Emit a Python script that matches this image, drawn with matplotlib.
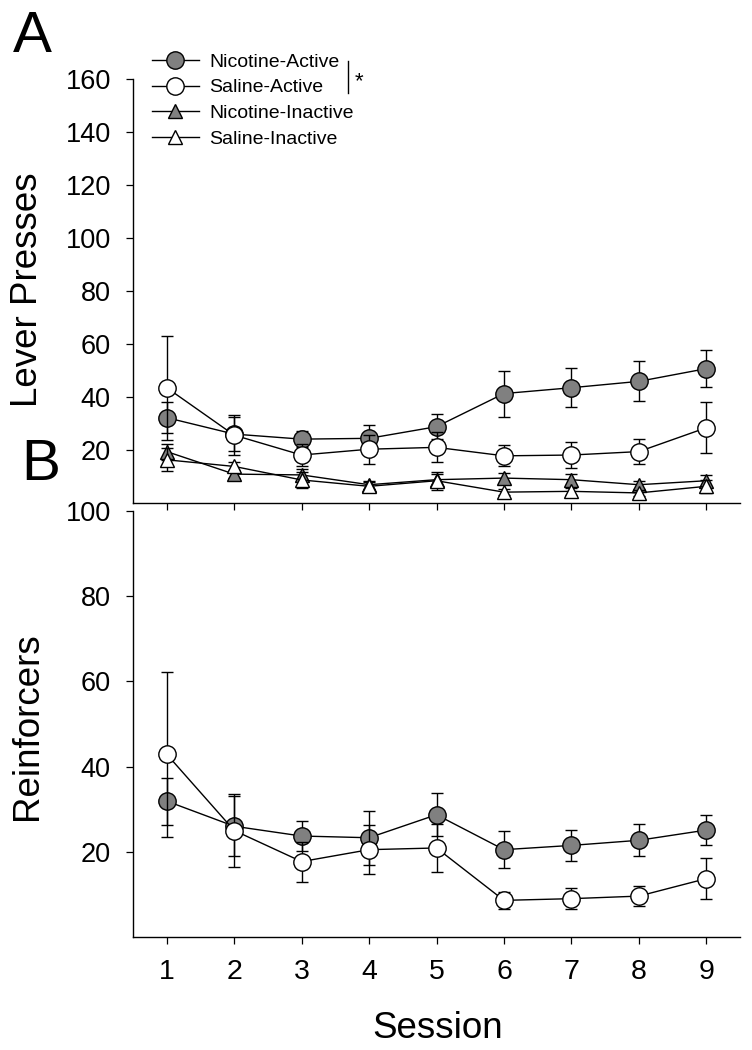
import numpy as np
import matplotlib
matplotlib.use("Agg")
import matplotlib.pyplot as plt
from matplotlib.lines import Line2D

plt.rcParams['font.family'] = ['Liberation Sans', 'DejaVu Sans']

# --- Data ---
sessions = np.arange(1, 10)

# Panel A: lever presses
nic_active = [32.2, 26.0, 24.1, 24.4, 28.8, 41.3, 43.5, 45.9, 50.7]
nic_active_err = [5.9, 6.5, 3.0, 5.2, 4.6, 8.7, 7.4, 7.5, 7.0]
sal_active = [43.5, 25.6, 18.1, 20.3, 21.0, 17.8, 18.1, 19.4, 28.4]
sal_active_err = [19.7, 7.5, 4.0, 5.5, 5.7, 4.0, 5.0, 4.8, 9.6]
nic_inactive = [19.4, 10.9, 10.6, 6.9, 8.8, 9.4, 8.8, 6.9, 8.4]
nic_inactive_err = [3.0, 1.5, 2.3, 1.5, 2.0, 2.1, 2.0, 1.5, 2.2]
sal_inactive = [16.3, 13.8, 8.7, 6.3, 8.4, 4.1, 4.4, 3.8, 6.3]
sal_inactive_err = [4.4, 1.8, 3.1, 1.5, 3.4, 1.0, 1.2, 1.0, 2.5]

# Panel B: reinforcers
nic_reinf = [31.9, 26.0, 23.7, 23.3, 28.7, 20.5, 21.5, 22.7, 25.1]
nic_reinf_err = [5.5, 7.0, 3.6, 6.3, 5.0, 4.4, 3.7, 3.8, 3.5]
sal_reinf = [42.9, 25.0, 17.7, 20.5, 20.9, 8.6, 9.0, 9.6, 13.7]
sal_reinf_err = [19.4, 8.5, 4.7, 5.8, 5.7, 2.0, 2.4, 2.3, 4.8]

labels = ['Nicotine-Active', 'Saline-Active', 'Nicotine-Inactive', 'Saline-Inactive']

gray = '#808080'
W, H = 752, 1050
LW = 1.0
MS_CIRC = 12.5
MS_TRI = 10.5

fig = plt.figure(figsize=(W / 100, H / 100), dpi=100)

def fx(px):
    return px / W

def fy(py):
    return 1 - py / H

axA = fig.add_axes([fx(133), fy(503), fx(740) - fx(133), fy(79) - fy(503)])
axB = fig.add_axes([fx(133), fy(937), fx(740) - fx(133), fy(511) - fy(937)])

def series(ax, y, err, marker, face, ms, z):
    ax.errorbar(sessions, y, yerr=err, fmt='-', color='black', lw=LW,
                elinewidth=LW, capsize=4, capthick=LW, zorder=z)
    ax.plot(sessions, y, linestyle='none', marker=marker, ms=ms,
            markerfacecolor=face, markeredgecolor='black', markeredgewidth=LW,
            zorder=z + 0.5)

series(axA, nic_inactive, nic_inactive_err, '^', gray, MS_TRI, 2)
series(axA, sal_inactive, sal_inactive_err, '^', 'white', MS_TRI, 3)
series(axA, nic_active, nic_active_err, 'o', gray, MS_CIRC, 4)
series(axA, sal_active, sal_active_err, 'o', 'white', MS_CIRC, 5)

series(axB, nic_reinf, nic_reinf_err, 'o', gray, MS_CIRC, 4)
series(axB, sal_reinf, sal_reinf_err, 'o', 'white', MS_CIRC, 5)

for ax in (axA, axB):
    ax.set_xlim(0.5, 9.5)
    ax.spines['top'].set_visible(False)
    ax.spines['right'].set_visible(False)
    for s in ('left', 'bottom'):
        ax.spines[s].set_linewidth(1.0)
    ax.set_xticks(sessions)
    ax.tick_params(direction='out', length=5, width=0.9)
    ax.tick_params(axis='y', labelsize=19.5, pad=11)
    ax.tick_params(axis='x', labelsize=20.5, pad=11)
    ax.patch.set_visible(False)

axA.set_ylim(0, 160)
axA.set_yticks(np.arange(20, 161, 20))
axA.tick_params(axis='x', labelbottom=False)

axB.set_ylim(0, 100)
axB.set_yticks(np.arange(20, 101, 20))

# axis titles
fig.text(fx(28), fy(290), 'Lever Presses', rotation=90, ha='center', va='center', fontsize=26.5)
fig.text(fx(28), fy(726), 'Reinforcers', rotation=90, ha='center', va='center', fontsize=26.5)
fig.text(fx(438), fy(1028), 'Session', ha='center', va='center', fontsize=26.5)

# panel letters
fig.text(fx(13), fy(52), 'A', fontsize=42, va='baseline')
fig.text(fx(21), fy(480), 'B', fontsize=42, va='baseline')

# legend
handles = [
    Line2D([], [], color='black', lw=LW, marker='o', ms=MS_CIRC, mfc=gray, mec='black', mew=LW),
    Line2D([], [], color='black', lw=LW, marker='o', ms=MS_CIRC, mfc='white', mec='black', mew=LW),
    Line2D([], [], color='black', lw=LW, marker='^', ms=MS_TRI, mfc=gray, mec='black', mew=LW),
    Line2D([], [], color='black', lw=LW, marker='^', ms=MS_TRI, mfc='white', mec='black', mew=LW),
]
fig.legend(handles, labels, loc='upper left', bbox_to_anchor=(fx(152), fy(53)),
           bbox_transform=fig.transFigure, frameon=False, fontsize=14,
           handlelength=2.4, handletextpad=0.55, labelspacing=0.42,
           borderpad=0, borderaxespad=0)

# significance bracket
fig.add_artist(Line2D([fx(348), fx(348)], [fy(61), fy(93)], color='black', lw=1.0))
fig.text(fx(355), fy(82), '*', fontsize=16, ha='left', va='center')

fig.savefig('out.png', dpi=100)
